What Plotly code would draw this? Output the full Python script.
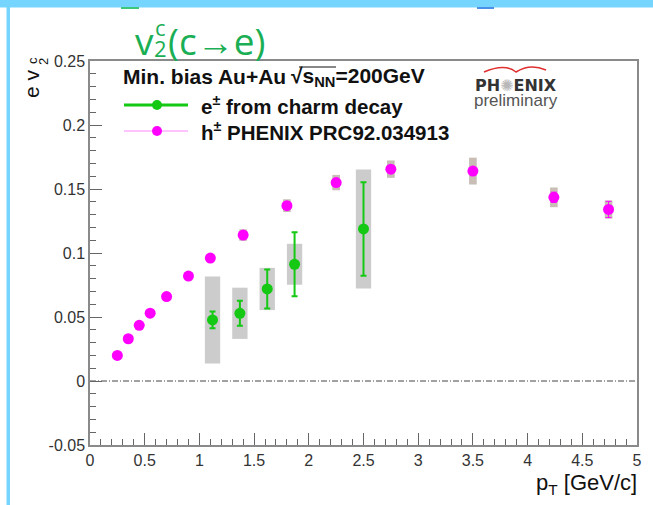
import plotly.graph_objects as go

# Charged hadron v2, PHENIX PRC 92, 034913
h_pt = [0.25, 0.35, 0.45, 0.55, 0.70, 0.90, 1.10, 1.40, 1.80, 2.25, 2.75, 3.50, 4.24, 4.74]
h_v2 = [0.020, 0.033, 0.0435, 0.053, 0.066, 0.082, 0.096, 0.114, 0.137, 0.155, 0.1655, 0.164, 0.1435, 0.134]
h_stat = [0.0005, 0.0005, 0.0005, 0.0005, 0.0005, 0.0005, 0.0006, 0.0008, 0.001, 0.0015, 0.002, 0.003, 0.004, 0.0064]
h_sys = [0.0015, 0.0015, 0.0015, 0.0015, 0.0015, 0.0015, 0.0015, 0.0045, 0.005, 0.006, 0.0068, 0.0105, 0.0077, 0.007]

# Electrons from charm decay
c_pt = [1.12, 1.37, 1.62, 1.87, 2.50]
c_v2 = [0.0477, 0.0529, 0.0719, 0.0912, 0.1188]
c_stat = [0.0065, 0.0098, 0.0153, 0.025, 0.0365]
c_sys = [0.034, 0.020, 0.0165, 0.016, 0.0465]

x_ticks = [0, 0.5, 1, 1.5, 2, 2.5, 3, 3.5, 4, 4.5, 5]
x_ticklabels = ["0", "0.5", "1", "1.5", "2", "2.5", "3", "3.5", "4", "4.5", "5"]
y_ticks = [-0.05, 0, 0.05, 0.1, 0.15, 0.2, 0.25]
y_ticklabels = ["-0.05", "0", "0.05", "0.1", "0.15", "0.2", "0.25"]

GREEN = "#14c814"
MAGENTA = "#ff00ff"
W, H = 653, 505
L, R, T, B = 90, 16, 61, 60
PW, PH = W - L - R, H - T - B


def px(x):
    return (x - L) / PW


def py(y):
    return (H - B - y) / PH


fig = go.Figure()

# systematic boxes
fig.add_trace(go.Bar(x=c_pt, y=[2 * s for s in c_sys], base=[v - s for v, s in zip(c_v2, c_sys)],
                     width=0.14, marker=dict(color="#cccccc", line=dict(width=0)),
                     showlegend=False, hoverinfo="skip"))
fig.add_trace(go.Bar(x=h_pt, y=[2 * s for s in h_sys], base=[v - s for v, s in zip(h_v2, h_sys)],
                     width=0.07, marker=dict(color="#c8beb6", line=dict(width=0)),
                     showlegend=False, hoverinfo="skip"))

fig.add_trace(go.Scatter(x=h_pt, y=h_v2, mode="markers",
                         marker=dict(color=MAGENTA, size=11),
                         error_y=dict(type="data", array=h_stat, color=MAGENTA, thickness=1, width=3),
                         showlegend=False))
fig.add_trace(go.Scatter(x=c_pt, y=c_v2, mode="markers",
                         marker=dict(color=GREEN, size=11),
                         error_y=dict(type="data", array=c_stat, color=GREEN, thickness=2, width=3),
                         showlegend=False))

# zero line
fig.add_shape(type="line", xref="x", yref="y", x0=0, x1=5, y0=0, y1=0,
              line=dict(color="#444444", width=1, dash="6px,2px,1px,2px"), layer="below")

axis_common = dict(showgrid=False, zeroline=False, showline=True, linecolor="#8a8a8a", linewidth=1.5,
                   mirror=True, ticks="inside", ticklen=12, tickcolor="#666666", tickwidth=1,
                   tickfont=dict(family="Liberation Sans", size=16, color="#333333"))

fig.update_xaxes(range=[0, 5], tickvals=x_ticks, ticktext=x_ticklabels,
                 minor=dict(ticks="inside", ticklen=6, dtick=0.1, tickcolor="#666666"), **axis_common)
fig.update_yaxes(range=[-0.05, 0.25], tickvals=y_ticks, ticktext=y_ticklabels,
                 minor=dict(ticks="inside", ticklen=6, dtick=0.01, tickcolor="#666666"), **axis_common)

ann = []
# title v2^c(c->e)
TF = "Open Sans"
TC = "#1aae55"
ann.append(dict(x=px(133), y=py(40), text="v", font=dict(family=TF, size=37, color=TC),
                xanchor="left", yanchor="middle"))
ann.append(dict(x=px(152), y=py(48), text="2", font=dict(family=TF, size=22, color=TC),
                xanchor="left", yanchor="middle"))
ann.append(dict(x=px(153), y=py(27), text="c", font=dict(family=TF, size=22, color=TC),
                xanchor="left", yanchor="middle"))
ann.append(dict(x=px(166), y=py(40), text="(c\u2192e)", font=dict(family=TF, size=37, color=TC),
                xanchor="left", yanchor="middle"))

# y axis title e v_2^c (rotated, reading upwards)
YF = dict(family="Liberation Sans", size=21, color="#111111")
ann.append(dict(x=px(31), y=py(84), text="e v", font=YF, textangle=-90,
                xanchor="center", yanchor="middle"))
ann.append(dict(x=px(44), y=py(62), text="2", font=dict(family="Liberation Sans", size=13, color="#111111"),
                textangle=-90, xanchor="center", yanchor="middle"))
ann.append(dict(x=px(32), y=py(61), text="c", font=dict(family="Liberation Sans", size=13, color="#111111"),
                textangle=-90, xanchor="center", yanchor="middle"))

# x axis title
ann.append(dict(x=px(639), y=py(484), text="p<sub>T</sub> [GeV/c]",
                font=dict(family="Liberation Sans", size=22, color="#111111"),
                xanchor="right", yanchor="middle"))

# legend block
LF = dict(family="Liberation Sans", size=20.5, color="#111111")
LF1 = dict(family="Liberation Sans", size=21, color="#111111")
ann.append(dict(x=px(121), y=py(77), text="<b>Min. bias Au+Au</b>", font=LF1,
                xanchor="left", yanchor="middle"))
ann.append(dict(x=px(289), y=py(77), text="<b>\u221as<sub>NN</sub>=200GeV</b>", font=LF1,
                xanchor="left", yanchor="middle"))
ann.append(dict(x=px(199), y=py(105), text="<b>e<sup>\u00b1</sup> from charm decay</b>", font=LF,
                xanchor="left", yanchor="middle"))
ann.append(dict(x=px(199), y=py(131), text="<b>h<sup>\u00b1</sup> PHENIX PRC92.034913</b>", font=LF,
                xanchor="left", yanchor="middle"))

# PHENIX preliminary logo
ann.append(dict(x=px(516), y=py(85),
                text="<b>PH<span style='color:#b8b8b8'>\u273a</span>ENIX</b>",
                font=dict(family="DejaVu Sans", size=16, color="#333333"), xanchor="center", yanchor="middle"))
ann.append(dict(x=px(516), y=py(101), text="preliminary",
                font=dict(family="Liberation Sans", size=17, color="#555555"), xanchor="center", yanchor="middle"))

for a in ann:
    a.update(xref="paper", yref="paper", showarrow=False)
fig.update_layout(annotations=ann)

shapes = []
# legend line + marker samples
shapes.append(dict(type="line", x0=px(124), x1=px(188), y0=py(105), y1=py(105),
                   line=dict(color=GREEN, width=3)))
shapes.append(dict(type="circle", x0=px(152), x1=px(162), y0=py(100), y1=py(110),
                   line=dict(width=0), fillcolor=GREEN))
shapes.append(dict(type="line", x0=px(124), x1=px(188), y0=py(131), y1=py(131),
                   line=dict(color="#ff88ff", width=1)))
shapes.append(dict(type="circle", x0=px(152), x1=px(162), y0=py(126), y1=py(136),
                   line=dict(width=0), fillcolor=MAGENTA))
# overline of the square root
shapes.append(dict(type="line", x0=px(299), x1=px(336), y0=py(67), y1=py(67),
                   line=dict(color="#111111", width=1)))
# red swoosh over the logo
shapes.append(dict(type="path",
                   path=f"M {px(484)},{py(72)} Q {px(505)},{py(63)} {px(516)},{py(72)} Q {px(530)},{py(63)} {px(546)},{py(70)}",
                   line=dict(color="#e03030", width=1.5)))
# page frame bands
shapes.append(dict(type="rect", x0=px(0), x1=px(653), y0=py(0), y1=py(7.5),
                   fillcolor="#76d5ff", line=dict(width=0)))
shapes.append(dict(type="rect", x0=px(6.5), x1=px(10), y0=py(7), y1=py(505),
                   fillcolor="#76d5ff", line=dict(width=0)))
shapes.append(dict(type="rect", x0=px(121), x1=px(139), y0=py(7), y1=py(9),
                   fillcolor="#3cc878", line=dict(width=0)))
shapes.append(dict(type="rect", x0=px(477), x1=px(494), y0=py(7), y1=py(9),
                   fillcolor="#4a90e8", line=dict(width=0)))
for s in shapes:
    s.update(xref="paper", yref="paper")
for s in shapes:
    fig.add_shape(**s)

fig.update_layout(width=W, height=H, margin=dict(l=L, r=R, t=T, b=B, pad=0),
                  plot_bgcolor="white", paper_bgcolor="white", barmode="overlay",
                  showlegend=False)

fig.write_html("out.html")
